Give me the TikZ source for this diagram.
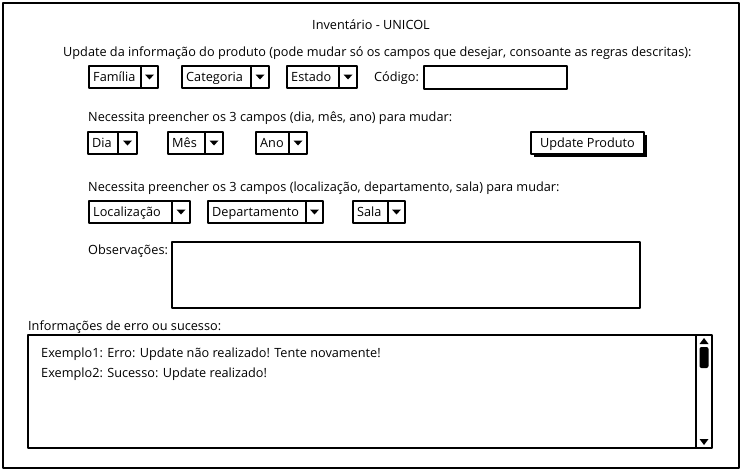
\documentclass[tikz,border=0pt]{standalone}
\usepackage{fontspec}
\setmainfont{Open Sans}
\usepackage{tikz}
\tikzset{txt/.style={anchor=base west,inner sep=0pt,font=\fontsize{12.7}{15}\selectfont},
    box/.style={draw,line width=1.2pt,fill=white},
    inbox/.style={draw,line width=1.7pt,fill=white}}

\begin{document}
\begin{tikzpicture}[x=1pt, y=-1pt, line join=round]
    \useasboundingbox (0,0) rectangle (742,471);
    
    \draw [line width=1.6pt] (3,3) rectangle (739,468);
    \node [txt, anchor=base] (title) at (371,29.5) {Inventário - UNICOL};
    
    \node [txt] (info) at (63,56.5) {Update da informação do produto (pode mudar só os campos que desejar, consoante as regras descritas):};
    \foreach \n/\xa/\xd/\xb/\ya/\t in {fam/89/141/158/66/Família, cat/182/251/269/66/Categoria, est/287/339/357/66/Estado, dia/88/118/137/132/Dia, mes/168/205/223/132/Mês, ano/256/289/307/132/Ano, loc/89/172/190/201/Localização, dep/208/306/323/201/Departamento, sala/353/388/405/201/Sala} {
        \pgfmathsetmacro{\cx}{(\xd+\xb)/2}
        \draw [box] (\xa,\ya) rectangle (\xb,\ya+22);
        \draw [line width=1.2pt] (\xd,\ya) -- (\xd,\ya+22);
        \fill (\cx-4.5,\ya+8.5) -- (\cx+4.5,\ya+8.5) -- (\cx,\ya+13.5) -- cycle;
        \node [txt] (\n) at (\xa+4,\ya+15.5) {\t};
    }
    \node [txt] (cod) at (374,81.5) {Código:};
    \draw [inbox] (424,66) rectangle (567,89);
    
    \node [txt] (dma) at (88,121.5) {Necessita preencher os 3 campos (dia, mês, ano) para mudar:};
    \fill (534,135) rectangle (647,157);
    \draw [box] (531,132) rectangle (644,154);
    \node [txt, anchor=base] (upd) at (587.5,147.5) {Update Produto};
    
    \node [txt] (lds) at (88,191.5) {Necessita preencher os 3 campos (localização, departamento, sala) para mudar:};
    
    \node [txt] (obs) at (88,254.5) {Observações:};
    \draw [inbox] (172,242) rectangle (640,308);
    
    \node [txt] (msg) at (28,330.5) {Informações de erro ou sucesso:};
    \draw [inbox] (28,335) rectangle (712,448);
    \draw [line width=1.2pt] (696,335) -- (696,448);
    \fill (704,338) -- (708.5,344) -- (699.5,344) -- cycle;
    \fill (704,445) -- (708.5,439) -- (699.5,439) -- cycle;
    \fill [rounded corners=2pt] (699.5,347) rectangle (708.5,368);
    \node [txt] (ex1) at (41,357.5) {Exemplo1: Erro: Update não realizado! Tente novamente!};
    \node [txt] (ex2) at (41,377.5) {Exemplo2: Sucesso: Update realizado!};
    
\end{tikzpicture}
\end{document}
